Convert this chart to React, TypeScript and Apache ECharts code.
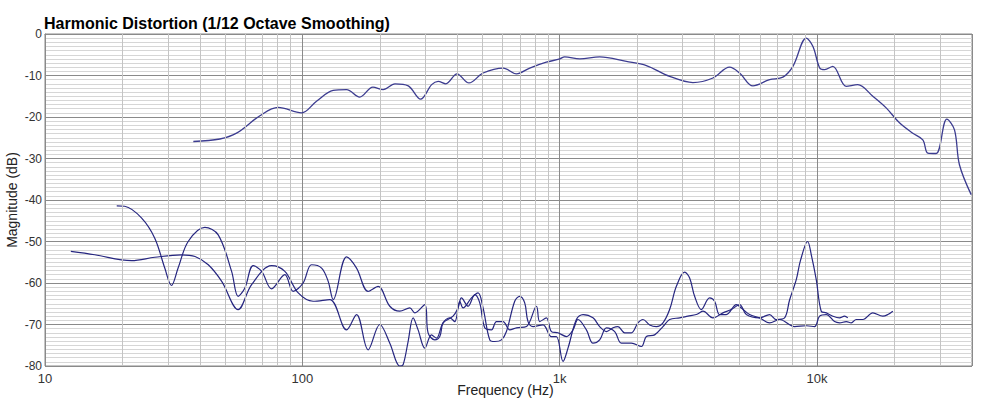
import React, { useEffect, useRef } from "react";
import * as echarts from "echarts";

// Fundamental
const fundFreq = [37.7, 47.8, 55.5, 68.4, 80.5, 99.3, 113.5, 131.7, 148.5, 167, 188, 206, 229, 258, 288, 318, 337, 361, 399, 444, 504, 603, 679, 765, 887, 1000, 1045, 1197, 1430, 1815, 2172, 2673, 3294, 3939, 4571, 5000, 5634, 6544, 7368, 8059, 9083, 9640, 10240, 10700, 11510, 12970, 14390, 16470, 18560, 20900, 23550, 25760, 26940, 29020, 31930, 34200, 35750, 39700];
const fundDb = [-25.9, -25.3, -23.9, -19.7, -17.7, -19.0, -16.2, -13.6, -13.4, -15.2, -12.8, -13.4, -12.0, -12.5, -15.7, -12.2, -11.4, -12.0, -9.6, -11.8, -9.4, -8.2, -9.6, -8.2, -6.8, -6.0, -5.5, -6.0, -5.5, -6.6, -7.6, -10.2, -11.7, -10.6, -8.0, -9.4, -12.5, -11.0, -10.4, -7.8, -1.0, -3.0, -8.2, -8.6, -7.8, -12.6, -12.2, -15.0, -17.8, -21.4, -23.9, -25.5, -28.7, -28.8, -20.5, -23.1, -31.5, -38.7];

// 2nd harmonic
const h2Freq = [19.0, 20.4, 23.7, 26.7, 29.2, 31.0, 32.9, 36.0, 41.8, 47.1, 53.1, 56.3, 59.8, 64.4, 69.5, 75.9, 85.5, 92.1, 100.7, 108.6, 118.8, 126, 131.8, 148.5, 162.4, 180.1, 197.0, 218.7, 239.1, 261.5, 273.5, 299.1, 308.0, 327.0, 342.0, 352.3, 374.0, 391.1, 409.0, 421.2, 454.1, 481.7, 503.7, 534.8, 559.2, 593.7, 620.9, 668.7, 699.3, 731.2, 753.1, 787.6, 861.2, 928.6, 971.0, 1030, 1077, 1161, 1232, 1347, 1430, 1519, 1611, 1684, 1788, 1898, 2014, 2106, 2236, 2374, 2519, 2674, 2840, 3058, 3198, 3344, 3551, 3823, 3999, 4182, 4440, 4857, 5077, 5469, 5980, 6539, 7151, 8176, 9081, 9780, 10230, 10860, 11700, 12230, 12990, 13580, 14200, 15070, 16470, 18010, 18840, 19700];
const h2Db = [-41.4, -41.5, -44.3, -49.2, -56.4, -60.6, -56.4, -50.0, -46.6, -48.4, -57.2, -63.2, -61.2, -55.8, -57.2, -61.4, -58.0, -62.0, -60.0, -55.6, -56.4, -59.6, -64.0, -53.7, -56.4, -62.0, -60.8, -65.6, -66.8, -66.0, -67.2, -65.2, -72.0, -73.7, -72.9, -69.6, -68.4, -69.3, -64.4, -66.0, -63.6, -62.4, -66.0, -73.7, -74.1, -73.7, -71.7, -64.4, -63.2, -64.8, -69.3, -70.5, -70.1, -72.9, -72.9, -78.9, -75.7, -68.8, -67.6, -68.4, -70.5, -71.7, -70.8, -70.5, -72.0, -72.0, -69.6, -68.8, -70.1, -70.5, -69.6, -66.4, -60.8, -57.4, -58.8, -63.2, -66.4, -63.6, -64.4, -67.6, -67.6, -65.2, -66.0, -67.6, -68.4, -69.6, -68.8, -70.5, -70.3, -70.5, -68.0, -67.6, -69.3, -69.6, -69.3, -69.6, -68.8, -68.8, -67.2, -68.0, -67.6, -66.8];

// 3rd harmonic
const h3Freq = [12.6, 15.6, 21.7, 26.7, 33.9, 38.3, 43.1, 48.6, 56.3, 63.5, 75.9, 85.5, 96.4, 110.1, 127.9, 148.5, 162.4, 180.1, 200.0, 218.7, 239.1, 246.3, 257.6, 269.4, 281.7, 299.1, 317.5, 332.0, 352.3, 385.1, 402.7, 415.2, 440.5, 467.7, 489.0, 511.4, 542.9, 567.8, 602.4, 639.6, 679.0, 742.6, 812.2, 836.4, 887.9, 928.6, 984.9, 1062, 1126, 1178, 1270, 1347, 1430, 1519, 1636, 1736, 1898, 2077, 2171, 2338, 2519, 2674, 2924, 3149, 3396, 3602, 3939, 4308, 4644, 5001, 5309, 5980, 6539, 6941, 7478, 7820, 8302, 8628, 9187, 9520, 9929, 10380, 10860, 11520, 12230, 12790, 13170];
const h3Db = [-52.4, -53.2, -54.6, -53.8, -53.2, -53.6, -55.6, -59.6, -66.4, -60.4, -55.8, -57.2, -62.4, -64.4, -64.0, -71.3, -67.6, -76.1, -70.0, -74.5, -80.0, -79.7, -74.1, -68.4, -71.3, -75.7, -72.5, -73.3, -69.6, -68.0, -66.0, -63.6, -65.6, -62.8, -64.8, -70.8, -71.3, -69.3, -69.3, -71.3, -70.8, -70.5, -65.6, -69.3, -68.4, -71.7, -72.0, -72.9, -71.3, -68.8, -71.3, -74.5, -73.7, -70.8, -71.7, -74.5, -74.5, -75.3, -72.9, -72.5, -70.5, -68.8, -68.4, -68.0, -67.6, -66.8, -68.4, -67.2, -66.4, -65.2, -67.6, -68.4, -67.6, -68.8, -68.4, -64.1, -59.2, -54.5, -50.0, -53.5, -59.2, -66.8, -67.2, -68.0, -68.4, -68.0, -68.4];

// minor vertical grid frequencies
const minorFreqs = [20, 30, 40, 50, 60, 70, 80, 90, 200, 300, 400, 500, 600, 700, 800, 900, 2000, 3000, 4000, 5000, 6000, 7000, 8000, 9000, 20000, 30000];

const zip = (f: number[], d: number[]) => f.map((x, i) => [x, d[i]]);

const FONT = "'Liberation Sans', Arial, Helvetica, sans-serif";

export default function App() {
  const ref = useRef<HTMLDivElement>(null);
  useEffect(() => {
    if (!ref.current) return;
    const chart = echarts.init(ref.current, undefined, { renderer: "svg" });
    chart.setOption({
      animation: false,
      backgroundColor: "#ffffff",
      title: {
        text: "Harmonic Distortion (1/12 Octave Smoothing)",
        left: 44,
        top: 15,
        padding: 0,
        textStyle: { fontFamily: FONT, fontSize: 16, fontWeight: "bold", color: "#000" },
      },
      grid: {
        left: 45,
        right: 32,
        top: 34,
        bottom: 39,
        containLabel: false,
        outerBoundsMode: "none",
        show: true,
        borderColor: "#8a8a8a",
        borderWidth: 1,
        backgroundColor: "#ffffff",
      },
      xAxis: {
        type: "log",
        logBase: 10,
        min: 10,
        max: 40000,
        name: "Frequency (Hz)",
        nameLocation: "middle",
        nameGap: 17,
        nameMoveOverlap: false,
        nameTextStyle: { fontFamily: FONT, fontSize: 14, color: "#222", padding: [0, 6, 0, 0] },
        axisLine: { show: true, lineStyle: { color: "#8a8a8a" } },
        axisTick: { show: false },
        axisLabel: {
          fontFamily: FONT,
          fontSize: 13,
          color: "#333",
          margin: 6,
          showMaxLabel: false,
          formatter: (v: number) => {
            const l = Math.log10(v);
            if (Math.abs(l - Math.round(l)) > 1e-6) return "";
            const r = Math.pow(10, Math.round(l));
            return r >= 1000 ? r / 1000 + "k" : String(r);
          },
        },
        splitLine: { show: true, lineStyle: { color: "#8a8a8a", width: 1 } },
      },
      yAxis: {
        type: "value",
        min: -80,
        max: 0,
        interval: 10,
        name: "Magnitude (dB)",
        nameLocation: "middle",
        nameGap: 26,
        nameMoveOverlap: false,
        nameTextStyle: { fontFamily: FONT, fontSize: 14, color: "#222" },
        axisLine: { show: true, lineStyle: { color: "#8a8a8a" } },
        axisTick: { show: false },
        axisLabel: { fontFamily: FONT, fontSize: 12, color: "#333", margin: 3 },
        splitLine: { show: true, lineStyle: { color: "#8a8a8a", width: 1 } },
        minorTick: { show: false, splitNumber: 10 },
        minorSplitLine: { show: true, lineStyle: { color: "#d6d6d6", width: 1 } },
      },
      series: [
        {
          type: "line",
          data: [],
          z: 1,
          silent: true,
          markLine: {
            silent: true,
            symbol: ["none", "none"],
            label: { show: false },
            lineStyle: { color: "#c4c4c4", width: 1, type: "solid" },
            data: minorFreqs.map((f) => ({ xAxis: f })),
          },
        },
        {
          type: "line",
          data: zip(fundFreq, fundDb),
          showSymbol: false,
          smooth: 0.35,
          z: 3,
          lineStyle: { color: "#3c3c90", width: 1.3 },
        },
        {
          type: "line",
          data: zip(h2Freq, h2Db),
          showSymbol: false,
          smooth: 0.35,
          z: 3,
          lineStyle: { color: "#262680", width: 1.2 },
        },
        {
          type: "line",
          data: zip(h3Freq, h3Db),
          showSymbol: false,
          smooth: 0.35,
          z: 3,
          lineStyle: { color: "#262680", width: 1.2 },
        },
      ],
    });
    return () => chart.dispose();
  }, []);
  return (
    <div
      ref={ref}
      style={{ position: "fixed", left: 0, top: 0, width: 1004, height: 405 }}
    />
  );
}
